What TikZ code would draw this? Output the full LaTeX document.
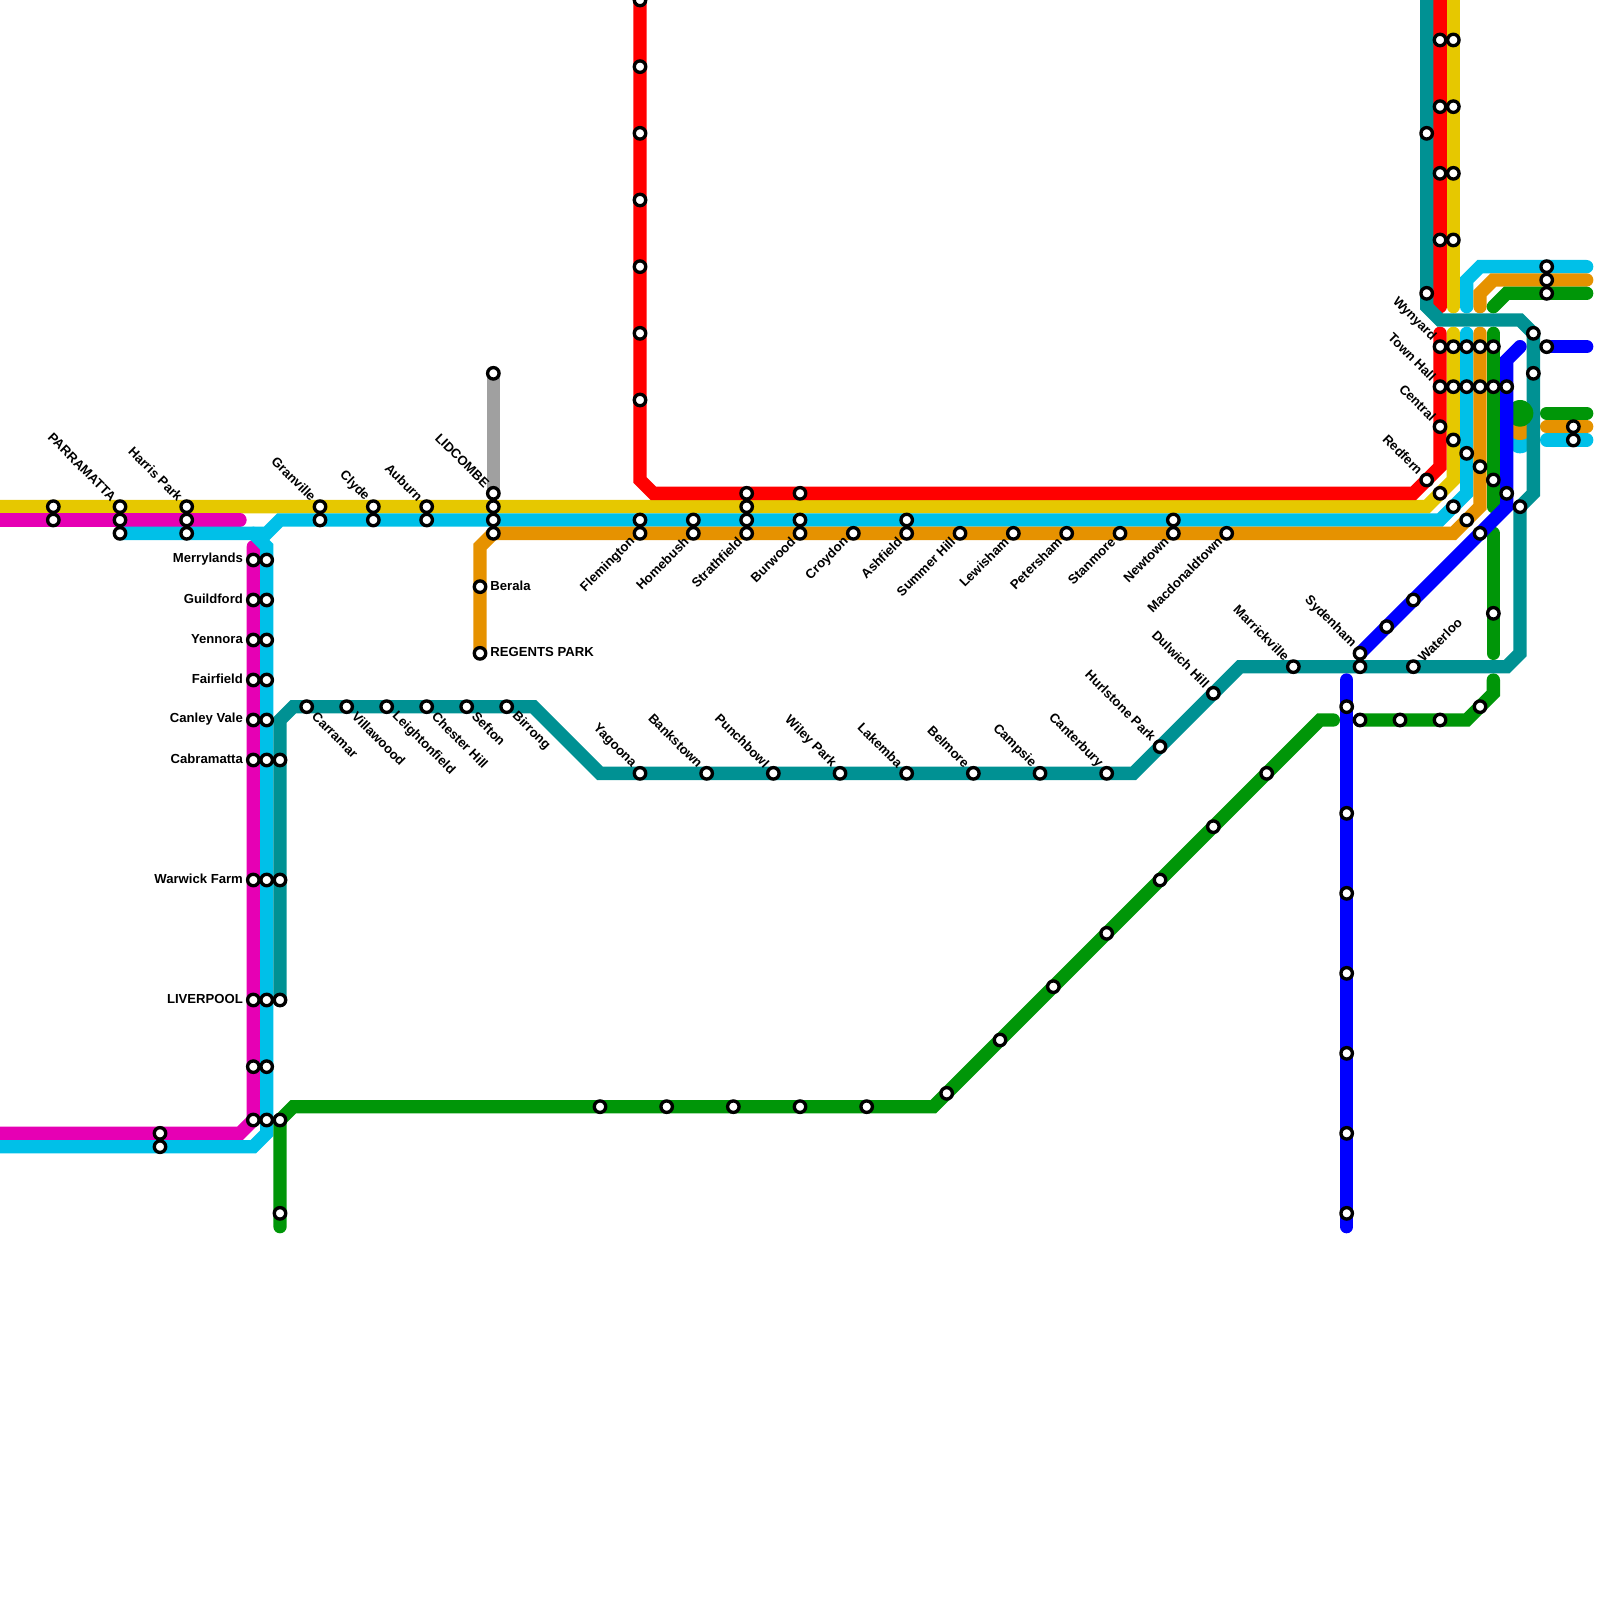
\documentclass[tikz,border=0pt]{standalone}
\usepackage{fontspec}
\setmainfont{Liberation Sans}
\usepackage{xcolor}
\definecolor{goldcol}{HTML}{E6C800}
\definecolor{pinkcol}{HTML}{E600B4}
\definecolor{skycol}{HTML}{00C0E8}
\definecolor{ambercol}{HTML}{E69200}
\definecolor{redcol}{HTML}{FF0000}
\definecolor{tealcol}{HTML}{009193}
\definecolor{leafcol}{HTML}{009608}
\definecolor{bluecol}{HTML}{0000FF}
\definecolor{ashcol}{HTML}{A0A0A0}
\tikzstyle{metro}=[line width=2mm,line cap=round,line join=miter]
\tikzstyle{station}=[circle,draw=black,fill=white,line width=0.05cm,inner sep=0,outer sep=0,minimum size=0.172cm]
\tikzstyle{stop}=[font=\fontsize{5.6}{6}\selectfont\bfseries,inner sep=0]
\tikzstyle{stop NW}=[stop,xshift=-0.09cm,yshift=0.115cm,rotate=-45,anchor=east]
\tikzstyle{stop SW}=[stop,xshift=-0.10cm,yshift=-0.09cm,rotate=45,anchor=east]
\tikzstyle{stop SE}=[stop,xshift=0.11cm,yshift=-0.11cm,rotate=-45,anchor=west]
\tikzstyle{stop NE}=[stop,xshift=0.10cm,yshift=0.10cm,rotate=45,anchor=west]
\tikzstyle{stop W}=[stop,xshift=-0.15cm,yshift=0.02cm,anchor=east]
\tikzstyle{stop E}=[stop,xshift=0.15cm,yshift=0.02cm,anchor=west]

\begin{document}
\begin{tikzpicture}[x=0.2cm,y=-0.2cm]
  \path[use as bounding box,clip] (0,0) rectangle (120,120);

  % LINES
  \draw[metro,ashcol] (37,28) -- (37,37);
  \draw[metro,goldcol] (109,-1) -- (109,23);
  \draw[metro,goldcol] (109,25) -- (109,36) -- (107,38) -- (-1,38);
  \draw[metro,pinkcol] (-1,39) -- (18,39);
  \draw[metro,pinkcol] (-1,85) -- (18,85) -- (19,84) -- (19,41);
  \draw[metro,skycol] (9,40) -- (20,40) -- (21,39) -- (108,39) -- (110,37) -- (110,25);
  \draw[metro,skycol] (19,40) -- (20,41) -- (20,85) -- (19,86) -- (-1,86);
  \draw[metro,skycol] (110,23) -- (110,21) -- (111,20) -- (119,20);
  \draw[metro,skycol] (116,33) -- (119,33);
  \draw[metro,ambercol] (111,25) -- (111,38) -- (109,40) -- (37,40) -- (36,41) -- (36,49);
  \draw[metro,ambercol] (111,23) -- (111,22) -- (112,21) -- (119,21);
  \draw[metro,ambercol] (116,32) -- (119,32);
  \draw[metro,redcol] (48,-1) -- (48,36) -- (49,37) -- (106,37) -- (108,35) -- (108,25);
  \draw[metro,redcol] (108,-1) -- (108,23);
  \draw[metro,leafcol] (21,92) -- (21,84) -- (22,83) -- (70,83) -- (99,54) -- (100,54);
  \draw[metro,leafcol] (102,54) -- (110,54) -- (112,52) -- (112,51);
  \draw[metro,leafcol] (112,40) -- (112,49);
  \draw[metro,leafcol] (112,25) -- (112,38);
  \draw[metro,leafcol] (112,23) -- (113,22) -- (119,22);
  \draw[metro,leafcol] (116,31) -- (119,31);

  % DOTS
  \fill[skycol] (114,33) circle (1);
  \fill[ambercol] (114,32) circle (1);

  \draw[metro,tealcol] (107,-1) -- (107,23) -- (108,24) -- (114,24) -- (115,25) -- (115,37)
    -- (114,38) -- (114,49) -- (113,50) -- (93,50) -- (85,58) -- (45,58) -- (40,53)
    -- (22,53) -- (21,54) -- (21,75);
  \fill[leafcol] (114,31) circle (1);
  \draw[metro,bluecol] (102,49) -- (113,38) -- (113,27) -- (114,26);
  \draw[metro,bluecol] (116,26) -- (119,26);
  \draw[metro,bluecol] (101,51) -- (101,92);

  % STATIONS
  \foreach \y in {0,5,10,15,20,25,30}{
    \node[station] (S48-\y) at (48,\y) {};
  }
  \foreach \y in {3,8,13,18}{
    \foreach \x in {108,109}{
      \node[station] (S\x-\y) at (\x,\y) {};
    }
  }
  \foreach \y in {42,45,48,51,54,57,66,75,80,84}{
    \foreach \x in {19,20}{
      \node[station] (S\x-\y) at (\x,\y) {};
    }
  }
  \foreach \x in {23,26,29,32,35,38}{
    \node[station] (S\x-53) at (\x,53) {};
  }
  \foreach \x in {48,53,...,83}{
    \node[station] (S\x-58) at (\x,58) {};
  }
  \foreach \x in {45,50,...,65}{
    \node[station] (S\x-83) at (\x,83) {};
  }
  \foreach \y in {53,61,67,73,79,85,91}{
    \node[station] (S101-\y) at (101,\y) {};
  }
  \foreach \x in {108,...,113}{
    \node[station] (S\x-29) at (\x,29) {};
  }
  \foreach \x in {108,...,112}{
    \node[station] (S\x-26) at (\x,26) {};
  }
  \foreach \x/\y in {4/38,4/39,9/38,9/39,9/40,14/38,14/39,14/40,12/85,12/86,
    24/38,24/39,28/38,28/39,32/38,32/39,37/28,37/37,37/38,37/39,37/40,
    36/44,36/49,48/39,48/40,52/39,52/40,56/37,56/38,56/39,56/40,
    60/37,60/39,60/40,64/40,68/39,68/40,72/40,76/40,80/40,84/40,88/39,88/40,92/40,
    21/57,21/66,21/75,21/84,21/91,
    97/50,102/49,102/50,106/50,91/52,87/56,107/10,107/22,
    71/82,75/78,79/74,83/70,87/66,91/62,95/58,
    102/54,105/54,108/54,111/53,112/46,104/47,106/45,111/40,
    108/32,109/33,110/34,111/35,112/36,113/37,114/38,
    107/36,108/37,109/38,110/39,115/25,115/28,116/26,
    116/20,116/21,116/22,118/32,118/33}{
    \node[station] (S\x-\y) at (\x,\y) {};
  }

  % LABELS
  \foreach \x/\y/\name in {9/38/PARRAMATTA,14/38/Harris Park,24/38/Granville,28/38/Clyde,
    32/38/Auburn,37/37/LIDCOMBE,48/58/Yagoona,53/58/Bankstown,58/58/Punchbowl,
    63/58/Wiley Park,68/58/Lakemba,73/58/Belmore,78/58/Campsie,83/58/Canterbury,
    87/56/Hurlstone Park,91/52/Dulwich Hill,97/50/Marrickville,102/49/Sydenham,
    107/36/Redfern,108/32/Central,108/29/Town Hall,108/26/Wynyard}{
    \node[stop NW] (\name) at (S\x-\y) {\name};
  }
  \foreach \x/\name in {48/Flemington,52/Homebush,56/Strathfield,60/Burwood,64/Croydon,
    68/Ashfield,72/Summer Hill,76/Lewisham,80/Petersham,84/Stanmore,88/Newtown,
    92/Macdonaldtown}{
    \node[stop SW] (\name) at (S\x-40) {\name};
  }
  \foreach \x/\name in {23/Carramar,26/Villawoood,29/Leightonfield,32/Chester Hill,
    35/Sefton,38/Birrong}{
    \node[stop SE] (\name) at (S\x-53) {\name};
  }
  \foreach \y/\name in {42/Merrylands,45/Guildford,48/Yennora,51/Fairfield,54/Canley Vale,
    57/Cabramatta,66/Warwick Farm,75/LIVERPOOL}{
    \node[stop W] (\name) at (S19-\y) {\name};
  }
  \node[stop NE] (Waterloo) at (S106-50) {Waterloo};
  \node[stop E] (Berala) at (S36-44) {Berala};
  \node[stop E] (Regents) at (S36-49) {REGENTS PARK};
\end{tikzpicture}
\end{document}
